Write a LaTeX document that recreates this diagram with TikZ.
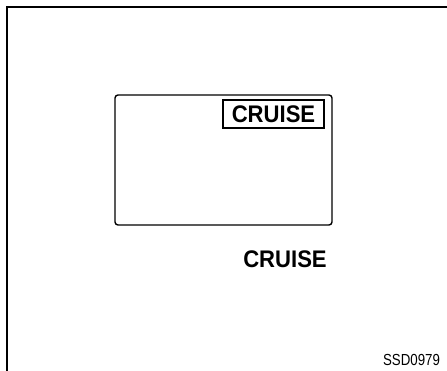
\documentclass[tikz,border=0pt]{standalone}
\usepackage{fontspec}
\setmainfont{Liberation Sans}
\newcommand{\cruisetext}{\scalebox{0.92}[1]{\bfseries\fontsize{24}{24}\selectfont CRUISE}}
\begin{document}
\begin{tikzpicture}[x=1pt, y=-1pt]
    \tikzset{
        label text/.style={inner sep=0pt},
        code text/.style={font=\fontsize{16}{16}\selectfont, inner sep=0pt}
    }
    \useasboundingbox (0,0) rectangle (447,371);

    % Frame
    \coordinate (TL) at (7,7);
    \coordinate (TR) at (447,7);
    \coordinate (BL) at (7,371);
    \draw[line width=2pt] (TR) -- (TL) -- (BL);

    % Display
    \draw[line width=1.4pt, rounded corners=3pt] (115,95) rectangle (332,225);
    \node[draw, line width=1.3pt, minimum width=101pt, minimum height=28pt, inner sep=0pt] (tag) at (273.5,114) {};
    \node[label text] (tagtext) at (tag.center) {\cruisetext};

    % Labels
    \node[label text, anchor=base] (name) at (285,268) {\cruisetext};
    \node[code text, anchor=base] (code) at (411.5,365) {\scalebox{0.83}[1]{SSD0979}};
\end{tikzpicture}
\end{document}
